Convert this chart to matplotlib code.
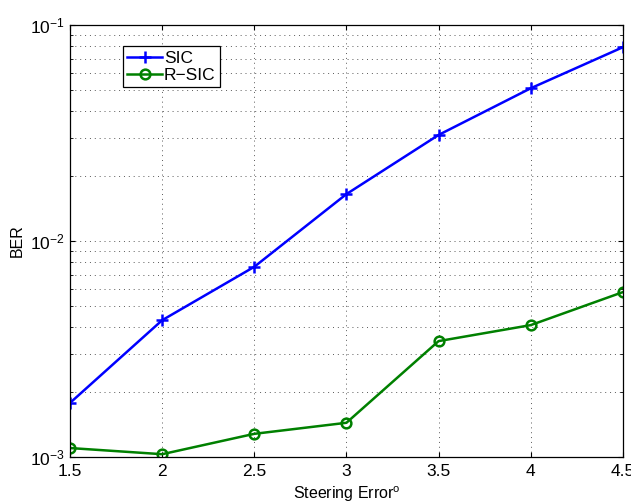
import matplotlib
matplotlib.use('Agg')
from matplotlib import pyplot as plt
from matplotlib.ticker import LogLocator, NullFormatter

plt.rcParams['font.family'] = ['Liberation Sans', 'DejaVu Sans']
plt.rcParams['mathtext.fontset'] = 'custom'
plt.rcParams['mathtext.rm'] = 'Liberation Sans'

# steering error (degrees)
err = [1.5, 2, 2.5, 3, 3.5, 4, 4.5]
ber_sic = [1.78e-3, 4.3e-3, 7.6e-3, 0.0165, 0.031, 0.051, 0.079]
ber_rsic = [1.10e-3, 1.03e-3, 1.28e-3, 1.44e-3, 3.44e-3, 4.08e-3, 5.8e-3]
xticks = [1.5, 2, 2.5, 3, 3.5, 4, 4.5]


def main():
  fig = plt.figure(figsize=(6.31, 5.03), dpi=100)
  ax = fig.add_axes([0.111, 0.0915, 0.876, 0.8585])

  ax.semilogy(err, ber_sic, '-+', color=(0, 0, 1), lw=1.8, ms=9, mew=1.8, label='SIC')
  ax.semilogy(err, ber_rsic, '-o', color=(0, 0.5, 0), lw=1.8, ms=7, mew=1.8,
              mfc='none', label='R\u2212SIC')

  ax.set_xlim(1.5, 4.5)
  ax.set_ylim(1e-3, 1e-1)
  ax.set_xticks(xticks)
  ax.set_xticklabels(['1.5', '2', '2.5', '3', '3.5', '4', '4.5'])
  ax.yaxis.set_minor_locator(LogLocator(base=10, subs=range(2, 10)))
  ax.yaxis.set_minor_formatter(NullFormatter())

  ax.grid(True, which='major', linestyle=(0, (1, 4)), color='0.35', lw=0.7)
  ax.grid(True, which='minor', axis='y', linestyle=(0, (1, 4)), color='0.35', lw=0.7)
  ax.tick_params(which='both', direction='in', top=True, right=True, labelsize=12.5)
  ax.tick_params(axis='x', pad=5)
  for s in ax.spines.values():
    s.set_linewidth(0.9)

  ax.set_xlabel('Steering Error$^{\\mathrm{o}}$', fontsize=11.5, labelpad=4)
  ax.set_ylabel('BER', fontsize=11.5)

  leg = ax.legend(loc='upper left', bbox_to_anchor=(0.096, 0.951), fontsize=12.5,
                  fancybox=False, framealpha=1, edgecolor='black',
                  handlelength=2.0, handletextpad=0.1, borderpad=0.25,
                  labelspacing=0.1, borderaxespad=0)
  leg.get_frame().set_linewidth(0.9)

  fig.savefig('out.png', dpi=100)


if __name__ == '__main__':
  main()
